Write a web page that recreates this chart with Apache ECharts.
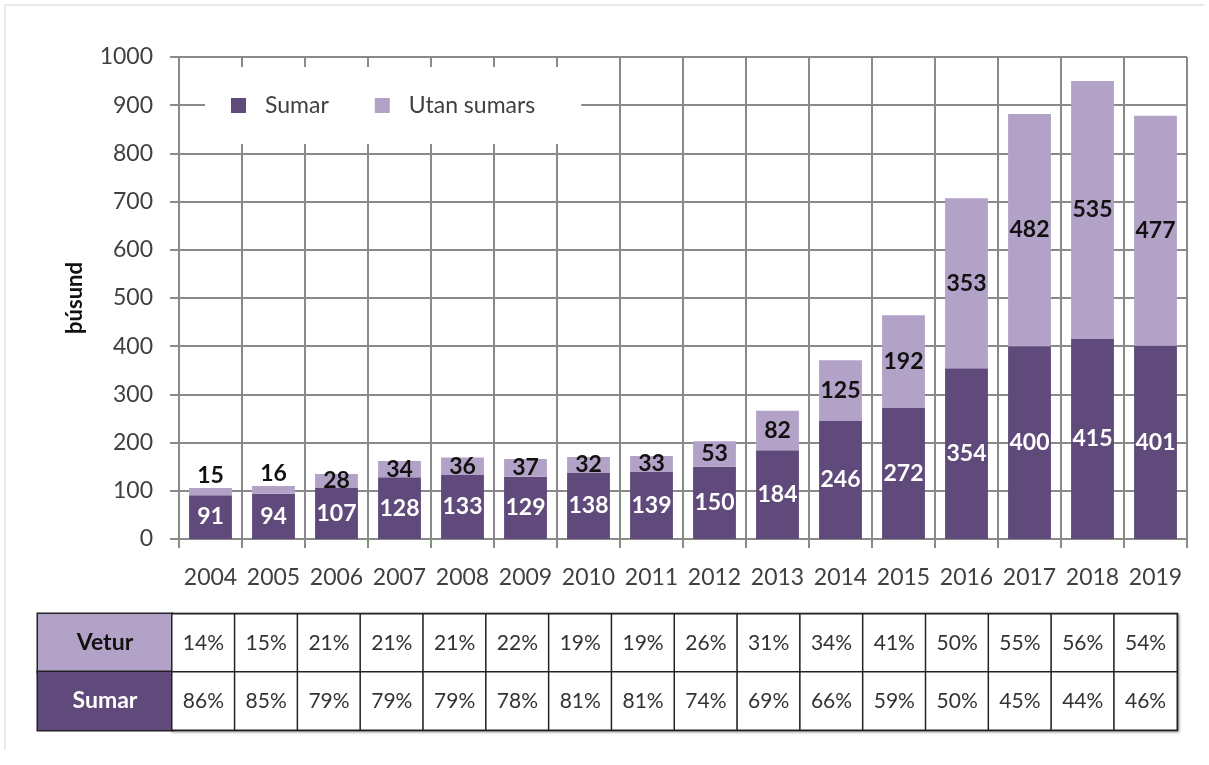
<!DOCTYPE html>
<html>
<head>
<meta charset="utf-8">
<script src="https://cdn.jsdelivr.net/npm/echarts@6/dist/echarts.min.js"></script>
<style>
html,body{margin:0;padding:0;background:#fff;}
#chart{width:1209px;height:765px;}
</style>
</head>
<body>
<div id="chart"></div>
<script>
const years = ['2004','2005','2006','2007','2008','2009','2010','2011','2012','2013','2014','2015','2016','2017','2018','2019'];
const sumar = [91,94,107,128,133,129,138,139,150,184,246,272,354,400,415,401];
const utanSumars = [15,16,28,34,36,37,32,33,53,82,125,192,353,482,535,477];
const veturPct = [14,15,21,21,21,22,19,19,26,31,34,41,50,55,56,54];
const sumarPct = [86,85,79,79,79,78,81,81,74,69,66,59,50,45,44,46];
const yTicks = [0,100,200,300,400,500,600,700,800,900,1000];
const tableRows = ['Vetur','Sumar'];

const DARK = '#604A7B';
const LIGHT = '#B3A2C7';
const FONT = 'Lato, "Open Sans", sans-serif';
const GRIDC = '#8a8a8a';

const chart = echarts.init(document.getElementById('chart'));

const utanData = utanSumars.map(v => v < 20
  ? { value: v, label: { position: 'top', distance: 1 } }
  : v);

const tableData = [];
veturPct.forEach((v, i) => tableData.push([i, 0, v]));
sumarPct.forEach((v, i) => tableData.push([i, 1, v]));

chart.setOption({
  animation: false,
  textStyle: { fontFamily: FONT },
  graphic: [{
    type: 'polyline',
    shape: { points: [[5, 750], [5, 5], [1204, 5]] },
    style: { stroke: '#e2e2e2', lineWidth: 1.5, fill: null },
    silent: true
  }],
  legend: {
    left: 205,
    top: 67,
    backgroundColor: '#fff',
    padding: [27, 46, 27, 26],
    itemWidth: 15,
    itemHeight: 15,
    itemGap: 46,
    icon: 'rect',
    textStyle: { fontSize: 23, color: '#404040', fontFamily: FONT, padding: [0, 0, 0, 14] },
    data: ['Sumar', 'Utan sumars'],
    selectedMode: false,
    z: 10
  },
  grid: [
    { left: 179, right: 22, top: 57, bottom: 226 },
    { left: 172, right: 32, top: 614, height: 116, show: true, borderColor: '#222', borderWidth: 2.5,
      shadowColor: 'rgba(0,0,0,0.35)', shadowBlur: 3, shadowOffsetX: 1, shadowOffsetY: 1, backgroundColor: '#fff' }
  ],
  xAxis: [
    {
      type: 'category', gridIndex: 0, data: years,
      axisLine: { show: true, lineStyle: { color: GRIDC, width: 2 } },
      axisTick: { show: true, length: 9, lineStyle: { color: GRIDC, width: 2 } },
      axisLabel: { fontSize: 23, color: '#404040', margin: 27, interval: 0, fontFamily: FONT },
      splitLine: { show: true, interval: 0, lineStyle: { color: GRIDC, width: 2 } }
    },
    {
      type: 'category', gridIndex: 1, data: years,
      axisLine: { show: false }, axisTick: { show: false }, axisLabel: { show: false },
      splitLine: { show: false }
    }
  ],
  yAxis: [
    {
      type: 'value', gridIndex: 0, min: yTicks[0], max: yTicks[yTicks.length - 1], interval: 100,
      name: 'þúsund', nameLocation: 'middle', nameGap: 93,
      nameTextStyle: { fontSize: 22, fontWeight: 'bold', color: '#111', fontFamily: FONT },
      axisLine: { show: true, lineStyle: { color: GRIDC, width: 2 } },
      axisTick: { show: true, length: 9, lineStyle: { color: GRIDC, width: 2 } },
      axisLabel: { fontSize: 23, color: '#404040', margin: 26, fontFamily: FONT, formatter: v => String(v) },
      splitLine: { show: true, lineStyle: { color: GRIDC, width: 2 } }
    },
    {
      type: 'category', gridIndex: 1, data: tableRows, inverse: true,
      axisLine: { show: false }, axisTick: { show: false }, splitLine: { show: false },
      axisLabel: {
        margin: 0,
        interval: 0,
        hideOverlap: false,
        formatter: v => (v === 'Vetur' ? '{v|' : '{s|') + v + '}',
        rich: {
          v: { width: 134, height: 58, lineHeight: 58, align: 'center', backgroundColor: LIGHT,
               color: '#111', fontWeight: 'bold', fontSize: 23, fontFamily: FONT,
               borderColor: '#222', borderWidth: 1.5 },
          s: { width: 134, height: 58, lineHeight: 58, align: 'center', backgroundColor: DARK,
               color: '#fff', fontWeight: 'bold', fontSize: 23, fontFamily: FONT,
               borderColor: '#222', borderWidth: 1.5 }
        }
      }
    }
  ],
  series: [
    {
      name: 'Sumar', type: 'bar', stack: 'total', xAxisIndex: 0, yAxisIndex: 0,
      data: sumar, barWidth: '68%',
      itemStyle: { color: DARK },
      label: { show: true, position: 'inside', color: '#fff', fontSize: 23, fontWeight: 'bold', fontFamily: FONT },
      emphasis: { disabled: true }, silent: true
    },
    {
      name: 'Utan sumars', type: 'bar', stack: 'total', xAxisIndex: 0, yAxisIndex: 0,
      data: utanData, barWidth: '68%',
      itemStyle: { color: LIGHT },
      label: { show: true, position: 'inside', color: '#111', fontSize: 23, fontWeight: 'bold', fontFamily: FONT },
      emphasis: { disabled: true }, silent: true
    },
    {
      name: 'table', type: 'heatmap', xAxisIndex: 1, yAxisIndex: 1,
      data: tableData,
      itemStyle: { color: '#fff', borderColor: '#222', borderWidth: 1.5 },
      label: { show: true, formatter: p => p.value[2] + '%', fontSize: 21, color: '#333', fontFamily: FONT },
      emphasis: { disabled: true }, silent: true
    }
  ]
});
</script>
</body>
</html>
